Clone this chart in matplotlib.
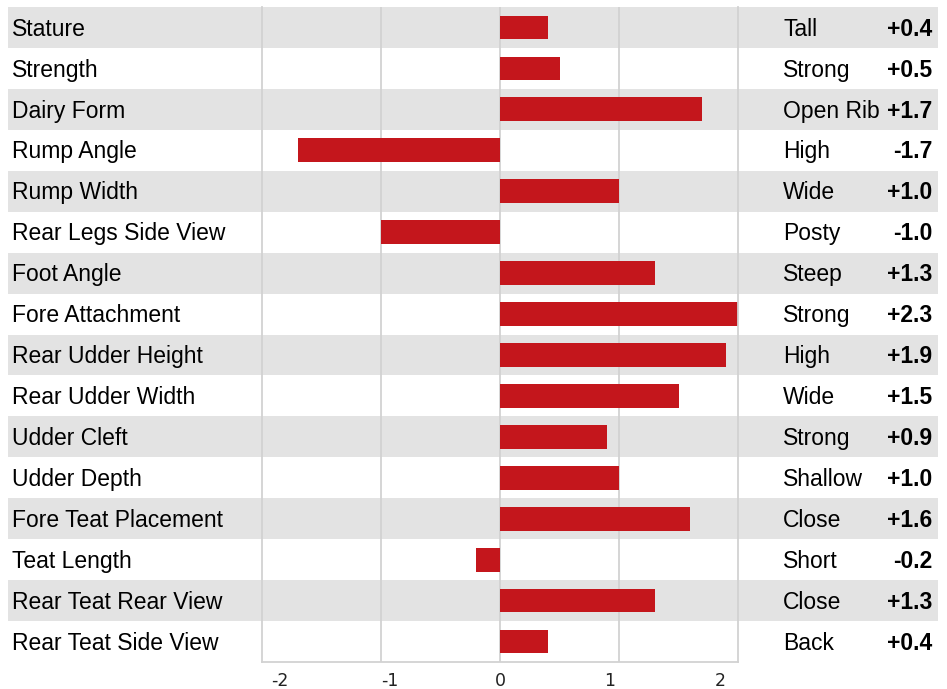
import matplotlib
matplotlib.use("Agg")
import matplotlib.pyplot as plt
import numpy as np

traits = ["Stature", "Strength", "Dairy Form", "Rump Angle", "Rump Width",
          "Rear Legs Side View", "Foot Angle", "Fore Attachment",
          "Rear Udder Height", "Rear Udder Width", "Udder Cleft", "Udder Depth",
          "Fore Teat Placement", "Teat Length", "Rear Teat Rear View",
          "Rear Teat Side View"]
values = [0.4, 0.5, 1.7, -1.7, 1.0, -1.0, 1.3, 2.3,
          1.9, 1.5, 0.9, 1.0, 1.6, -0.2, 1.3, 0.4]
descriptors = ["Tall", "Strong", "Open Rib", "High", "Wide", "Posty", "Steep",
               "Strong", "High", "Wide", "Strong", "Shallow", "Close", "Short",
               "Close", "Back"]
tick_labels = ["-2", "-1", "0", "1", "2"]

W, H = 947, 689
fig = plt.figure(figsize=(W / 100, H / 100), dpi=100)

band = "#e3e3e3"
grid = "#d2d2d2"
red = "#c4161c"
n = len(traits)

# background: alternating row bands + text columns
bg = fig.add_axes([8 / W, 27 / H, 930 / W, 655 / H])
bg.set_xlim(0, 1)
bg.set_ylim(n - 0.5, -0.5)
bg.axis("off")
for i in range(n):
    if i % 2 == 0:
        bg.axhspan(i - 0.5, i + 0.5, color=band, lw=0)
    bg.text(4 / 930, i + 0.2, traits[i], fontsize=16.5, family="Liberation Sans",
            va="baseline", ha="left")
    bg.text(775 / 930, i + 0.2, descriptors[i], fontsize=16.5,
            family="Liberation Sans", va="baseline", ha="left")
    bg.text(924 / 930, i + 0.2, f"{values[i]:+.1f}", fontsize=16.5,
            family="Liberation Sans", weight="bold", va="baseline", ha="right")

# bar area
ax = fig.add_axes([262 / W, 27 / H, 476 / W, 655 / H], zorder=2)
ax.patch.set_alpha(0)
ax.set_xlim(-2, 2)
ax.set_ylim(n - 0.5, -0.5)
for x in [-1, 0, 1]:
    ax.axvline(x, color=grid, lw=1.3, zorder=1)
ax.barh(np.arange(n), values, height=0.58, color=red, zorder=2)

for s in ["left", "right", "bottom"]:
    ax.spines[s].set_color(grid)
    ax.spines[s].set_linewidth(1.3)
ax.spines["top"].set_visible(False)
ax.set_yticks([])
# the original labels sit on a slightly narrower scale than the grid
ax.set_xticks(np.array([-2, -1, 0, 1, 2]) * 110 / 119)
ax.set_xticklabels(tick_labels, fontsize=12.5, family="DejaVu Sans", color="#222222")
ax.tick_params(axis="x", length=0, pad=7)

fig.savefig("out.png", dpi=100)
